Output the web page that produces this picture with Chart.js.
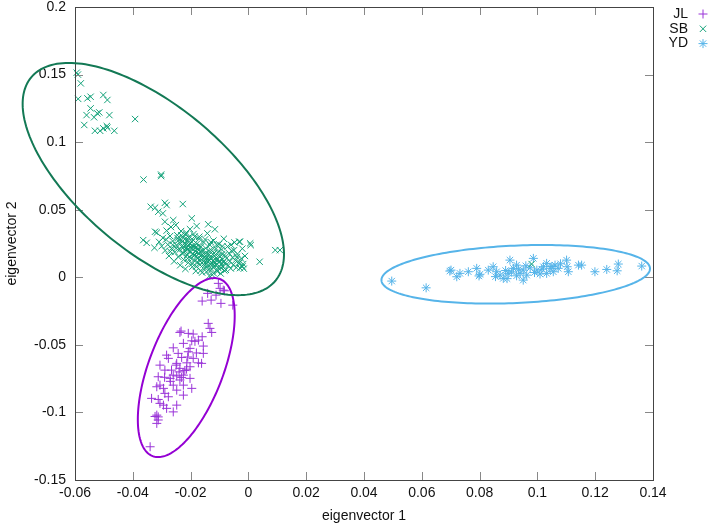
<!DOCTYPE html>
<html>
<head>
<meta charset="utf-8">
<script src="https://cdn.jsdelivr.net/npm/chart.js@4.4.0/dist/chart.umd.min.js"></script>
<style>
  html, body { margin: 0; padding: 0; background: #fff; }
  #wrap { width: 708px; height: 526px; }
</style>
</head>
<body>
<div id="wrap"><canvas id="pcaChart"></canvas></div>
<script>
// group names, marker styles and colours
const groupNames = ["JL", "SB", "YD"];
const groupStyles = ["cross", "crossRot", "star"];
const groupColors = ["#9a34d8", "#11a178", "#56b4e9"];
const ellipseColors = ["#9400d3", "#137955", "#56b4e9"];

// points: [eigenvector 1, eigenvector 2]
const jlPoints = [
  [-0.0104,-0.0045],[-0.0098,-0.0082],[-0.0087,-0.0095],[-0.0083,-0.0100],[-0.0112,-0.0132],
  [-0.0141,-0.0119],[-0.0129,-0.0169],[-0.0160,-0.0176],[-0.0095,-0.0193],[-0.0054,-0.0206],
  [-0.0139,-0.0341],[-0.0133,-0.0378],[-0.0127,-0.0408],[-0.0233,-0.0398],[-0.0237,-0.0408],
  [-0.0208,-0.0415],[-0.0191,-0.0420],[-0.0160,-0.0440],[-0.0173,-0.0465],[-0.0196,-0.0470],
  [-0.0185,-0.0474],[-0.0225,-0.0489],[-0.0156,-0.0509],[-0.0202,-0.0526],[-0.0260,-0.0522],
  [-0.0208,-0.0551],[-0.0156,-0.0563],[-0.0243,-0.0563],[-0.0283,-0.0576],[-0.0231,-0.0593],
  [-0.0191,-0.0600],[-0.0277,-0.0600],[-0.0173,-0.0633],[-0.0213,-0.0633],[-0.0306,-0.0650],
  [-0.0248,-0.0637],[-0.0162,-0.0637],[-0.0289,-0.0687],[-0.0266,-0.0687],[-0.0237,-0.0674],
  [-0.0220,-0.0690],[-0.0202,-0.0662],[-0.0260,-0.0724],[-0.0248,-0.0730],[-0.0231,-0.0741],
  [-0.0312,-0.0736],[-0.0271,-0.0748],[-0.0225,-0.0724],[-0.0202,-0.0748],[-0.0237,-0.0760],
  [-0.0260,-0.0798],[-0.0225,-0.0798],[-0.0306,-0.0798],[-0.0317,-0.0810],[-0.0294,-0.0822],
  [-0.0196,-0.0822],[-0.0248,-0.0835],[-0.0289,-0.0859],[-0.0225,-0.0872],[-0.0277,-0.0884],
  [-0.0335,-0.0896],[-0.0312,-0.0904],[-0.0306,-0.0933],[-0.0294,-0.0946],[-0.0248,-0.0946],
  [-0.0283,-0.0970],[-0.0260,-0.0996],[-0.0317,-0.1020],[-0.0312,-0.1033],[-0.0323,-0.1030],
  [-0.0317,-0.1081],[-0.0312,-0.1056],[-0.0340,-0.1254],[-0.0214,-0.0680],[-0.0250,-0.0650],
  [-0.0270,-0.0770],[-0.0240,-0.0700],[-0.0180,-0.0560],[-0.0210,-0.0590],[-0.0290,-0.0740]
];

const sbPoints = [
  [-0.0594,0.1514],[-0.0590,0.1500],[-0.0580,0.1435],[-0.0589,0.1320],[-0.0557,0.1324],
  [-0.0546,0.1336],[-0.0502,0.1349],[-0.0488,0.1312],[-0.0546,0.1250],[-0.0516,0.1220],
  [-0.0523,0.1213],[-0.0560,0.1200],[-0.0534,0.1184],[-0.0481,0.1200],[-0.0568,0.1127],
  [-0.0531,0.1084],[-0.0513,0.1084],[-0.0502,0.1102],[-0.0490,0.1119],[-0.0488,0.1107],
  [-0.0464,0.1084],[-0.0392,0.1171],
  [-0.0363,0.0723],[-0.0302,0.0760],[-0.0302,0.0749],[-0.0338,0.0522],[-0.0289,0.0551],
  [-0.0283,0.0534],[-0.0227,0.0542],[-0.0312,0.0485],[-0.0296,0.0473],[-0.0323,0.0515],
  [-0.0289,0.0411],[-0.0196,0.0436],[-0.0179,0.0379],[-0.0323,0.0337],
  [-0.0364,0.0275],[-0.0352,0.0255],[-0.0317,0.0330],[-0.0325,0.0218],[-0.0309,0.0262],
  [-0.0296,0.0291],[-0.0288,0.0198],[-0.0283,0.0345],[-0.0279,0.0242],[-0.0275,0.0158],
  [-0.0271,0.0305],[-0.0268,0.0372],[-0.0266,0.0214],[-0.0262,0.0268],[-0.0260,0.0423],
  [-0.0257,0.0118],[-0.0255,0.0186],[-0.0251,0.0386],[-0.0249,0.0238],[-0.0246,0.0311],
  [-0.0243,0.0152],[-0.0241,0.0275],[-0.0238,0.0204],[-0.0236,0.0089],[-0.0233,0.0342],
  [-0.0231,0.0228],[-0.0229,0.0175],[-0.0226,0.0293],[-0.0224,0.0131],[-0.0222,0.0249],
  [-0.0220,0.0198],[-0.0218,0.0062],[-0.0216,0.0318],[-0.0214,0.0221],[-0.0212,0.0165],
  [-0.0210,0.0276],[-0.0208,0.0108],[-0.0206,0.0239],[-0.0204,0.0188],[-0.0202,0.0356],
  [-0.0200,0.0142],[-0.0198,0.0214],[-0.0196,0.0261],[-0.0194,0.0078],[-0.0192,0.0172],
  [-0.0190,0.0229],[-0.0188,0.0125],[-0.0186,0.0302],[-0.0184,0.0195],[-0.0182,0.0046],
  [-0.0180,0.0156],[-0.0178,0.0248],[-0.0176,0.0112],[-0.0174,0.0208],[-0.0172,0.0175],
  [-0.0170,0.0284],[-0.0168,0.0092],[-0.0166,0.0138],[-0.0164,0.0226],[-0.0162,0.0162],
  [-0.0160,0.0035],[-0.0158,0.0195],[-0.0156,0.0118],[-0.0154,0.0258],[-0.0152,0.0148],
  [-0.0150,0.0071],[-0.0148,0.0215],[-0.0146,0.0182],[-0.0144,0.0102],[-0.0142,0.0325],
  [-0.0140,0.0135],[-0.0139,0.0392],[-0.0137,0.0058],[-0.0135,0.0168],[-0.0133,0.0238],
  [-0.0131,0.0095],[-0.0129,0.0145],[-0.0127,0.0198],[-0.0125,0.0018],[-0.0123,0.0122],
  [-0.0121,0.0272],[-0.0119,0.0082],[-0.0117,0.0158],[-0.0116,0.0355],[-0.0114,0.0108],
  [-0.0112,0.0212],[-0.0110,0.0048],[-0.0108,0.0135],[-0.0106,0.0185],[-0.0104,0.0068],
  [-0.0102,0.0245],[-0.0100,0.0115],[-0.0098,0.0152],[-0.0096,0.0028],[-0.0094,0.0098],
  [-0.0092,0.0205],[-0.0090,0.0132],[-0.0088,0.0078],[-0.0085,0.0285],[-0.0083,0.0165],
  [-0.0080,0.0105],[-0.0078,0.0055],[-0.0075,0.0142],[-0.0072,0.0228],[-0.0070,0.0088],
  [-0.0067,0.0178],[-0.0064,0.0118],[-0.0061,0.0065],[-0.0058,0.0195],[-0.0055,0.0148],
  [-0.0052,0.0092],[-0.0048,0.0258],[-0.0045,0.0125],[-0.0042,0.0072],[-0.0038,0.0172],
  [-0.0034,0.0105],[-0.0032,0.0263],[-0.0029,0.0068],[-0.0025,0.0138],[-0.0021,0.0212],
  [-0.0018,0.0098],[-0.0016,0.0064],[-0.0012,0.0158],[-0.0029,0.0263],[0.0006,0.0251],
  [0.0008,0.0238],[0.0039,0.0115],[0.0093,0.0201],[0.0109,0.0201],
  [-0.0245,0.0290],[-0.0238,0.0255],[-0.0232,0.0310],[-0.0228,0.0265],[-0.0223,0.0225],
  [-0.0219,0.0285],[-0.0215,0.0245],[-0.0211,0.0205],[-0.0207,0.0295],[-0.0203,0.0250],
  [-0.0199,0.0190],[-0.0195,0.0230],[-0.0191,0.0275],[-0.0187,0.0160],[-0.0183,0.0220],
  [-0.0179,0.0185],[-0.0175,0.0140],[-0.0171,0.0235],[-0.0167,0.0120],[-0.0163,0.0195],
  [-0.0159,0.0170],[-0.0155,0.0095],[-0.0151,0.0125],[-0.0147,0.0160],[-0.0143,0.0080],
  [-0.0139,0.0115],[-0.0135,0.0195],[-0.0131,0.0140],[-0.0127,0.0060],[-0.0123,0.0100],
  [-0.0119,0.0180],[-0.0115,0.0135],[-0.0111,0.0090],[-0.0107,0.0045],[-0.0103,0.0160],
  [-0.0099,0.0120],[-0.0095,0.0070],[-0.0091,0.0170],[-0.0087,0.0110],[-0.0083,0.0050],
  [-0.0225,0.0180],[-0.0210,0.0140],[-0.0195,0.0100],[-0.0180,0.0080],[-0.0165,0.0050],
  [-0.0250,0.0215],[-0.0262,0.0240],[-0.0270,0.0190],[-0.0215,0.0330],[-0.0190,0.0320],
  [-0.0170,0.0300],[-0.0150,0.0280],[-0.0130,0.0260],[-0.0110,0.0240],[-0.0090,0.0230],
  [-0.0060,0.0240],[-0.0050,0.0200],[-0.0040,0.0150],[-0.0030,0.0110],[-0.0020,0.0080],
  [-0.0145,0.0040],[-0.0120,0.0030],[-0.0135,0.0010],[-0.0285,0.0280],[-0.0300,0.0230],
  [0.0980,0.0098]
];

const ydPoints = [
  [0.0496,-0.0028],[0.0615,-0.0078],[0.0701,0.0053],[0.0697,0.0046],[0.0721,0.0004],
  [0.0732,0.0029],[0.0761,0.0041],[0.0790,0.0066],[0.0801,0.0022],[0.0798,0.0010],
  [0.0830,0.0053],[0.0847,0.0078],[0.0859,0.0041],[0.0871,0.0016],[0.0882,-0.0008],
  [0.0855,0.0005],[0.0899,0.0029],[0.0905,0.0127],[0.0917,0.0066],[0.0928,0.0011],
  [0.0986,0.0140],[0.0928,0.0090],[0.0951,0.0053],[0.0940,0.0029],[0.0963,0.0016],
  [0.0951,-0.0021],[0.0998,0.0053],[0.1021,0.0078],[0.1032,0.0103],[0.1044,0.0066],
  [0.1061,0.0090],[0.1072,0.0066],[0.1055,0.0041],[0.1032,0.0029],[0.1009,0.0024],
  [0.1101,0.0127],[0.1103,0.0078],[0.1107,0.0041],[0.1142,0.0090],[0.1153,0.0090],
  [0.1199,0.0041],[0.1240,0.0058],[0.1280,0.0098],[0.1276,0.0048],[0.1361,0.0083],
  [0.0890,0.0050],[0.0910,0.0040],[0.0975,0.0070],[0.0990,0.0035],[0.1015,0.0060],
  [0.1050,0.0080],[0.1080,0.0100],[0.0895,-0.0010],[0.0935,0.0060],[0.0960,0.0085]
];

// ellipses: centre, semi-axis A and semi-axis B, in data units
const ellipseCenters = [[-0.0215,-0.0668],[-0.0329,0.0727],[0.0925,0.0022]];
const ellipseAxisA = [[0.01163,0.0655],[0.04225,-0.07528],[0.04646,0.00442]];
const ellipseAxisB = [[0.01207,-0.0098],[-0.01611,-0.04141],[0.00044,-0.02122]];

const xTicks = [-0.06, -0.04, -0.02, 0, 0.02, 0.04, 0.06, 0.08, 0.1, 0.12, 0.14];
const yTicks = [-0.15, -0.1, -0.05, 0, 0.05, 0.1, 0.15, 0.2];

const allSeries = [jlPoints, sbPoints, ydPoints];

const fontFamily = "'Liberation Sans', Arial, sans-serif";

// frame and inward gnuplot-like ticks on all four sides
const framePlugin = {
  id: "frame",
  afterDatasetsDraw(chart) {
    const { ctx, chartArea: a, scales } = chart;
    ctx.save();
    ctx.strokeStyle = "#888";
    ctx.lineWidth = 1;
    const len = 8;
    scales.x.ticks.forEach((t) => {
      const px = Math.round(scales.x.getPixelForValue(t.value)) + 0.5;
      ctx.beginPath();
      ctx.moveTo(px, a.bottom); ctx.lineTo(px, a.bottom - len);
      ctx.moveTo(px, a.top); ctx.lineTo(px, a.top + len);
      ctx.stroke();
    });
    scales.y.ticks.forEach((t) => {
      const py = Math.round(scales.y.getPixelForValue(t.value)) + 0.5;
      ctx.beginPath();
      ctx.moveTo(a.left, py); ctx.lineTo(a.left + len, py);
      ctx.moveTo(a.right, py); ctx.lineTo(a.right - len, py);
      ctx.stroke();
    });
    ctx.strokeStyle = "#444";
    ctx.strokeRect(Math.round(a.left) + 0.5, Math.round(a.top) + 0.5,
      Math.round(a.right - a.left), Math.round(a.bottom - a.top));
    ctx.restore();
  }
};

// ellipses round each group
const ellipsePlugin = {
  id: "ellipses",
  afterDatasetsDraw(chart) {
    const { ctx, scales } = chart;
    ctx.save();
    ctx.lineWidth = 2;
    ellipseCenters.forEach((c, i) => {
      const A = ellipseAxisA[i], B = ellipseAxisB[i];
      ctx.strokeStyle = ellipseColors[i];
      ctx.beginPath();
      for (let k = 0; k <= 200; k++) {
        const t = (k / 200) * Math.PI * 2;
        const vx = c[0] + A[0] * Math.cos(t) + B[0] * Math.sin(t);
        const vy = c[1] + A[1] * Math.cos(t) + B[1] * Math.sin(t);
        const px = scales.x.getPixelForValue(vx);
        const py = scales.y.getPixelForValue(vy);
        if (k === 0) ctx.moveTo(px, py); else ctx.lineTo(px, py);
      }
      ctx.closePath();
      ctx.stroke();
    });
    ctx.restore();
  }
};

// key in the top right corner, text then marker
const keyPlugin = {
  id: "key",
  afterDraw(chart) {
    const ctx = chart.ctx;
    ctx.save();
    ctx.font = "14px " + fontFamily;
    ctx.textAlign = "right";
    ctx.textBaseline = "middle";
    groupNames.forEach((name, i) => {
      const y = 14 + i * 14.8;
      ctx.fillStyle = "#111";
      ctx.fillText(name, 688, y);
      ctx.strokeStyle = groupColors[i];
      ctx.lineWidth = 1;
      Chart.helpers.drawPoint(ctx, { pointStyle: groupStyles[i], radius: 4.5, borderWidth: 1, rotation: 0 }, 703, y);
    });
    ctx.restore();
  }
};

const fmt = (v) => String(+Number(v).toFixed(2));

const ctx = document.getElementById("pcaChart").getContext("2d");
const pcaChart = new Chart(ctx, {
  type: "scatter",
  data: {
    datasets: allSeries.map((pts, i) => ({
      label: groupNames[i],
      data: pts.map((p) => ({ x: p[0], y: p[1] })),
      pointStyle: groupStyles[i],
      borderColor: groupColors[i],
      backgroundColor: groupColors[i],
      pointRadius: 4.5,
      pointHoverRadius: 4.5,
      borderWidth: 1,
      clip: false,
    })),
  },
  options: {
    responsive: true,
    maintainAspectRatio: false,
    animation: false,
    layout: { padding: { top: 7, right: 55, left: 0, bottom: 0 } },
    plugins: { legend: { display: false }, tooltip: { enabled: false } },
    scales: {
      x: {
        type: "linear",
        min: -0.06,
        max: 0.14,
        afterBuildTicks: (s) => { s.ticks = xTicks.map((v) => ({ value: v })); },
        afterFit: (s) => { s.height = 46; s.paddingLeft = 0; s.paddingRight = 0; },
        grid: { display: false, drawTicks: false },
        border: { display: false },
        ticks: { padding: 5, color: "#111", font: { family: fontFamily, size: 14 }, callback: fmt, maxRotation: 0, autoSkip: false },
        title: { display: true, text: "eigenvector 1", color: "#111", font: { family: fontFamily, size: 14 }, padding: { top: 0, bottom: 1 } },
      },
      y: {
        type: "linear",
        min: -0.15,
        max: 0.2,
        afterBuildTicks: (s) => { s.ticks = yTicks.map((v) => ({ value: v })); },
        afterFit: (s) => { s.width = 75; s.paddingTop = 0; s.paddingBottom = 0; },
        grid: { display: false, drawTicks: false },
        border: { display: false },
        ticks: { padding: 9, color: "#111", font: { family: fontFamily, size: 14 }, callback: fmt, autoSkip: false },
        title: { display: true, text: "eigenvector 2", color: "#111", font: { family: fontFamily, size: 14 }, padding: { top: 4, bottom: 0 } },
      },
    },
  },
  plugins: [framePlugin, ellipsePlugin, keyPlugin],
});
</script>
</body>
</html>
